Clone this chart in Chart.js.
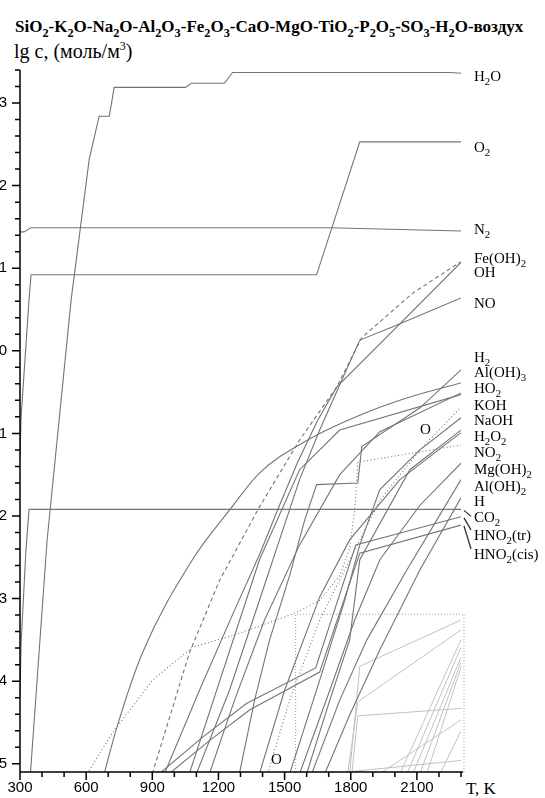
<!DOCTYPE html>
<html>
<head>
<meta charset="utf-8">
<script src="https://cdn.jsdelivr.net/npm/chart.js@4.4.1/dist/chart.umd.min.js"></script>
<style>
  body { margin: 0; background: #fff; width: 545px; height: 798px; overflow: hidden; position: relative; font-family: 'Liberation Serif', 'Times New Roman', serif; }
  #wrap { position: absolute; left: -20px; top: 0; width: 565px; height: 798px; }
  .t { position: absolute; white-space: nowrap; color: #000; line-height: 1; }
  .lab { font-size: 15px; transform: translateY(-50%); }
  sub { font-size: 0.72em; vertical-align: -0.38em; line-height: 0; }
  sup { font-size: 0.6em; vertical-align: 0.7em; line-height: 0; }
  #title { left: 15px; top: 18px; font-weight: bold; font-size: 17px; }
  #ytitle { left: 14px; top: 41px; font-size: 20px; }
  #xtitle { left: 466px; top: 780px; font-size: 17px; }
</style>
</head>
<body>
<div class="t" id="title">SiO<sub>2</sub>-K<sub>2</sub>O-Na<sub>2</sub>O-Al<sub>2</sub>O<sub>3</sub>-Fe<sub>2</sub>O<sub>3</sub>-CaO-MgO-TiO<sub>2</sub>-P<sub>2</sub>O<sub>5</sub>-SO<sub>3</sub>-H<sub>2</sub>O-воздух</div>
<div class="t" id="ytitle">lg c, (моль/м<sup>3</sup>)</div>
<div class="t" id="xtitle">T, K</div>
<div id="wrap"><canvas id="c" width="565" height="798"></canvas></div>
<script>
// axis ticks
const xTicks = [300, 600, 900, 1200, 1500, 1800, 2100];
const yTicks = [3, 2, 1, 0, -1, -2, -3, -4, -5];

// main species, T in K and lg c
const tH2O  = [345, 423, 532, 614, 659, 705, 727, 1050, 1077, 1227, 1264, 2250, 2300];
const lgH2O = [-5.2, -2.29, 0.62, 2.32, 2.84, 2.84, 3.19, 3.19, 3.24, 3.24, 3.37, 3.37, 3.36];
const tO2   = [300, 305, 341, 350, 1645, 1841, 2300];
const lgO2  = [-1.3, -0.8, 0.62, 0.92, 0.92, 2.53, 2.53];
const tN2   = [300, 318, 350, 1705, 2300];
const lgN2  = [1.44, 1.44, 1.49, 1.49, 1.45];
const tCO2  = [300, 305, 327, 341, 2300];
const lgCO2 = [-4.2, -3.54, -2.41, -1.92, -1.92];

const tFeOH2  = [900, 1068, 1205, 1386, 1568, 1736, 1850, 2082, 2300];
const lgFeOH2 = [-5.12, -3.66, -2.78, -1.89, -1.08, -0.44, 0.16, 0.70, 1.08];
const tOH   = [955, 1114, 1273, 1386, 1477, 1559, 1650, 1736, 1991, 2300];
const lgOH  = [-5.12, -4.11, -3.14, -2.47, -1.87, -1.35, -0.84, -0.44, 0.24, 1.07];
const tNO   = [1100, 1250, 1386, 1477, 1568, 1659, 1750, 1841, 1991, 2300];
const lgNO  = [-5.12, -4.11, -3.02, -2.29, -1.56, -0.96, -0.41, 0.13, 0.29, 0.64];
const tH2   = [1295, 1364, 1432, 1523, 1591, 1645, 1832, 1850, 2114, 2300];
const lgH2  = [-5.12, -4.23, -3.50, -2.72, -2.05, -1.62, -1.60, -1.16, -0.69, -0.23];
const tAlOH3  = [682, 736, 855, 1082, 1250, 1386, 1605, 1841, 2068, 2300];
const lgAlOH3 = [-5.12, -4.59, -3.66, -2.53, -1.93, -1.48, -1.08, -0.78, -0.56, -0.39];
const tHO2  = [1159, 1273, 1409, 1568, 1750, 1932, 2300];
const lgHO2 = [-5.12, -4.23, -3.26, -2.35, -1.50, -0.98, -0.51];
const tKOH  = [1423, 1523, 1659, 1795, 1932, 2114, 2300];
const lgKOH = [-5.12, -4.23, -3.26, -2.53, -1.81, -1.20, -0.68];
const tNaOH  = [1523, 1659, 1773, 1841, 1932, 2114, 2300];
const lgNaOH = [-5.12, -3.99, -3.02, -2.35, -1.68, -1.20, -0.81];
const tH2O2  = [1600, 1705, 1795, 1841, 2068, 2300];
const lgH2O2 = [-5.12, -4.23, -3.50, -2.53, -1.44, -0.96];
const tNO2  = [605, 718, 900, 1082, 1295, 1545, 1659, 1750, 1795, 1818, 1832, 2300];
const lgNO2 = [-5.12, -4.63, -3.99, -3.59, -3.42, -3.18, -3.02, -2.72, -2.39, -1.93, -1.35, -1.14];
const tMgOH2  = [1568, 1705, 1818, 1932, 2114, 2300];
const lgMgOH2 = [-5.12, -4.11, -3.26, -2.53, -1.87, -1.36];
const tAlOH2  = [1623, 1750, 1873, 2055, 2300];
const lgAlOH2 = [-5.12, -4.23, -3.50, -2.65, -1.56];
const tH    = [1682, 1795, 1932, 2114, 2300];
const lgH   = [-5.12, -4.41, -3.62, -2.65, -1.78];
const tHNO2tr   = [932, 1127, 1327, 1641, 1823, 2300];
const lgHNO2tr  = [-5.12, -4.68, -4.27, -3.84, -2.35, -2.01];
const tHNO2cis  = [977, 1159, 1341, 1659, 1841, 2300];
const lgHNO2cis = [-5.12, -4.72, -4.35, -3.89, -2.45, -2.11];
const tX1   = [1068, 1386, 1568, 1750, 2300];
const lgX1  = [-5.12, -2.53, -1.44, -0.96, -0.53];
const tX2   = [1386, 1500, 1659, 1795, 2023, 2300];
const lgX2  = [-5.12, -4.11, -2.98, -2.29, -1.56, -0.99];

// minor species inside the dotted box
const tL1 = [1795, 1841, 2300], lgL1 = [-5.12, -3.82, -3.26];
const tL2 = [1786, 1832, 2300], lgL2 = [-5.12, -4.25, -3.38];
const tL3 = [1805, 1832, 2300], lgL3 = [-5.12, -4.42, -4.33];
const tL4 = [1932, 2300], lgL4 = [-5.12, -4.47];
const tL5 = [2023, 2300], lgL5 = [-5.12, -3.50];
const tL6 = [2055, 2300], lgL6 = [-5.12, -3.59];
const tL7 = [2082, 2300], lgL7 = [-5.12, -3.71];
const tL8 = [2114, 2300], lgL8 = [-5.12, -3.77];
const tL9 = [2145, 2300], lgL9 = [-5.12, -3.83];
const tL10 = [1705, 2300], lgL10 = [-5.12, -4.96];
const tL11 = [2205, 2300], lgL11 = [-5.12, -4.60];

// zoom box corner
const boxT = 1550, boxLg = -3.19;

const dark = '#747474', light = '#c2c2c2';
const series = [
  [tH2O, lgH2O, 'solid'], [tO2, lgO2, 'solid'], [tN2, lgN2, 'solid'], [tCO2, lgCO2, 'solid'],
  [tFeOH2, lgFeOH2, 'dash'], [tOH, lgOH, 'solid'], [tNO, lgNO, 'solid'], [tH2, lgH2, 'solid'],
  [tAlOH3, lgAlOH3, 'smooth'], [tHO2, lgHO2, 'solid'], [tKOH, lgKOH, 'dot'], [tNaOH, lgNaOH, 'solid'],
  [tH2O2, lgH2O2, 'solid'], [tNO2, lgNO2, 'dot'], [tMgOH2, lgMgOH2, 'solid'], [tAlOH2, lgAlOH2, 'solid'],
  [tH, lgH, 'solid'], [tHNO2tr, lgHNO2tr, 'solid'], [tHNO2cis, lgHNO2cis, 'solid'],
  [tX1, lgX1, 'solid'], [tX2, lgX2, 'solid'],
  [tL1, lgL1, 'light'], [tL2, lgL2, 'light'], [tL3, lgL3, 'light'], [tL4, lgL4, 'light'],
  [tL5, lgL5, 'light'], [tL6, lgL6, 'light'], [tL7, lgL7, 'light'], [tL8, lgL8, 'light'],
  [tL9, lgL9, 'light'], [tL10, lgL10, 'light'], [tL11, lgL11, 'light']
];

// right-hand labels: html, centre y in page px
const labels = [
  ['H<sub>2</sub>O', 76], ['O<sub>2</sub>', 147], ['N<sub>2</sub>', 229],
  ['Fe(OH)<sub>2</sub>', 258], ['OH', 272], ['NO', 303],
  ['H<sub>2</sub>', 357], ['Al(OH)<sub>3</sub>', 372], ['HO<sub>2</sub>', 388],
  ['KOH', 405], ['NaOH', 420], ['H<sub>2</sub>O<sub>2</sub>', 436], ['NO<sub>2</sub>', 452],
  ['Mg(OH)<sub>2</sub>', 469], ['Al(OH)<sub>2</sub>', 486], ['H', 501],
  ['CO<sub>2</sub>', 517], ['HNO<sub>2</sub>(tr)', 535], ['HNO<sub>2</sub>(cis)', 554]
];
labels.forEach(([html, yc]) => {
  const d = document.createElement('div');
  d.className = 't lab';
  d.style.left = '474px';
  d.style.top = yc + 'px';
  d.innerHTML = html;
  document.body.appendChild(d);
});
[[271, 752], [420, 422]].forEach(([x, y]) => {
  const d = document.createElement('div');
  d.className = 't';
  d.style.left = x + 'px';
  d.style.top = y + 'px';
  d.style.fontSize = '15px';
  d.textContent = 'O';
  document.body.appendChild(d);
});

const datasets = series.map(([t, lg, kind]) => ({
  data: t.map((x, i) => ({ x: x, y: lg[i] })),
  borderColor: kind === 'light' ? light : dark,
  borderWidth: kind === 'light' ? 1 : 1.1,
  borderDash: kind === 'dash' ? [4, 3] : kind === 'dot' ? [1, 2.5] : [],
  pointRadius: 0,
  tension: 0,
  cubicInterpolationMode: kind === 'smooth' ? 'monotone' : 'default',
  fill: false
}));

const axesPlugin = {
  id: 'axes',
  beforeDatasetsDraw(chart) {
    const { ctx, chartArea: a, scales: { x, y } } = chart;
    const bx = x.getPixelForValue(boxT), by = y.getPixelForValue(boxLg);
    ctx.save();
    ctx.strokeStyle = '#9a9a9a';
    ctx.lineWidth = 1;
    ctx.setLineDash([1, 2]);
    ctx.beginPath();
    ctx.moveTo(bx, a.bottom);
    ctx.lineTo(bx, by);
    ctx.lineTo(a.right + 3, by);
    ctx.lineTo(a.right + 3, a.bottom);
    ctx.stroke();
    ctx.restore();
  },
  afterDraw(chart) {
    const { ctx, chartArea: a, scales: { x, y } } = chart;
    ctx.save();
    ctx.strokeStyle = '#000';
    ctx.lineWidth = 1.5;
    ctx.beginPath();
    ctx.moveTo(a.left, a.top);
    ctx.lineTo(a.left, a.bottom);
    ctx.lineTo(a.right + 2, a.bottom);
    for (let k = -25; k <= 17; k++) {
      const py = y.getPixelForValue(k / 5);
      const len = k % 5 === 0 ? 8 : 5;
      ctx.moveTo(a.left - len, py);
      ctx.lineTo(a.left, py);
    }
    for (let t = 300; t <= 2300; t += 100) {
      const px = x.getPixelForValue(t);
      const len = t % 300 === 0 ? 8 : 5;
      ctx.moveTo(px, a.bottom);
      ctx.lineTo(px, a.bottom + len);
    }
    ctx.stroke();
    // leaders for the three bottom labels
    ctx.strokeStyle = '#333';
    ctx.lineWidth = 1.3;
    ctx.beginPath();
    [[lgCO2, 7], [lgHNO2tr, 13], [lgHNO2cis, 24]].forEach(([lg, d]) => {
      const py = y.getPixelForValue(lg[lg.length - 1]);
      ctx.moveTo(a.right + 3, py + 1);
      ctx.lineTo(a.right + 10, py + d);
    });
    ctx.stroke();
    ctx.restore();
  }
};

new Chart(document.getElementById('c'), {
  type: 'line',
  data: { datasets: datasets },
  options: {
    responsive: false,
    animation: false,
    devicePixelRatio: 1,
    layout: { padding: { top: 70, right: 84, left: 0, bottom: 0 } },
    plugins: { legend: { display: false }, tooltip: { enabled: false } },
    scales: {
      x: {
        type: 'linear', min: 300, max: 2300,
        afterFit: s => { s.height = 26; },
        afterBuildTicks: s => { s.ticks = xTicks.map(v => ({ value: v })); },
        grid: { display: false, drawTicks: false },
        border: { display: false },
        ticks: { padding: 7, color: '#000', font: { family: 'Liberation Sans', size: 15 }, maxRotation: 0, callback: v => String(v) }
      },
      y: {
        type: 'linear', min: -5.1, max: 3.4,
        afterFit: s => { s.width = 40; },
        afterBuildTicks: s => { s.ticks = yTicks.map(v => ({ value: v })); },
        grid: { display: false, drawTicks: false },
        border: { display: false },
        ticks: { padding: 13, color: '#000', font: { family: 'Liberation Sans', size: 15 }, callback: v => String(v) }
      }
    }
  },
  plugins: [axesPlugin]
});
</script>
</body>
</html>
